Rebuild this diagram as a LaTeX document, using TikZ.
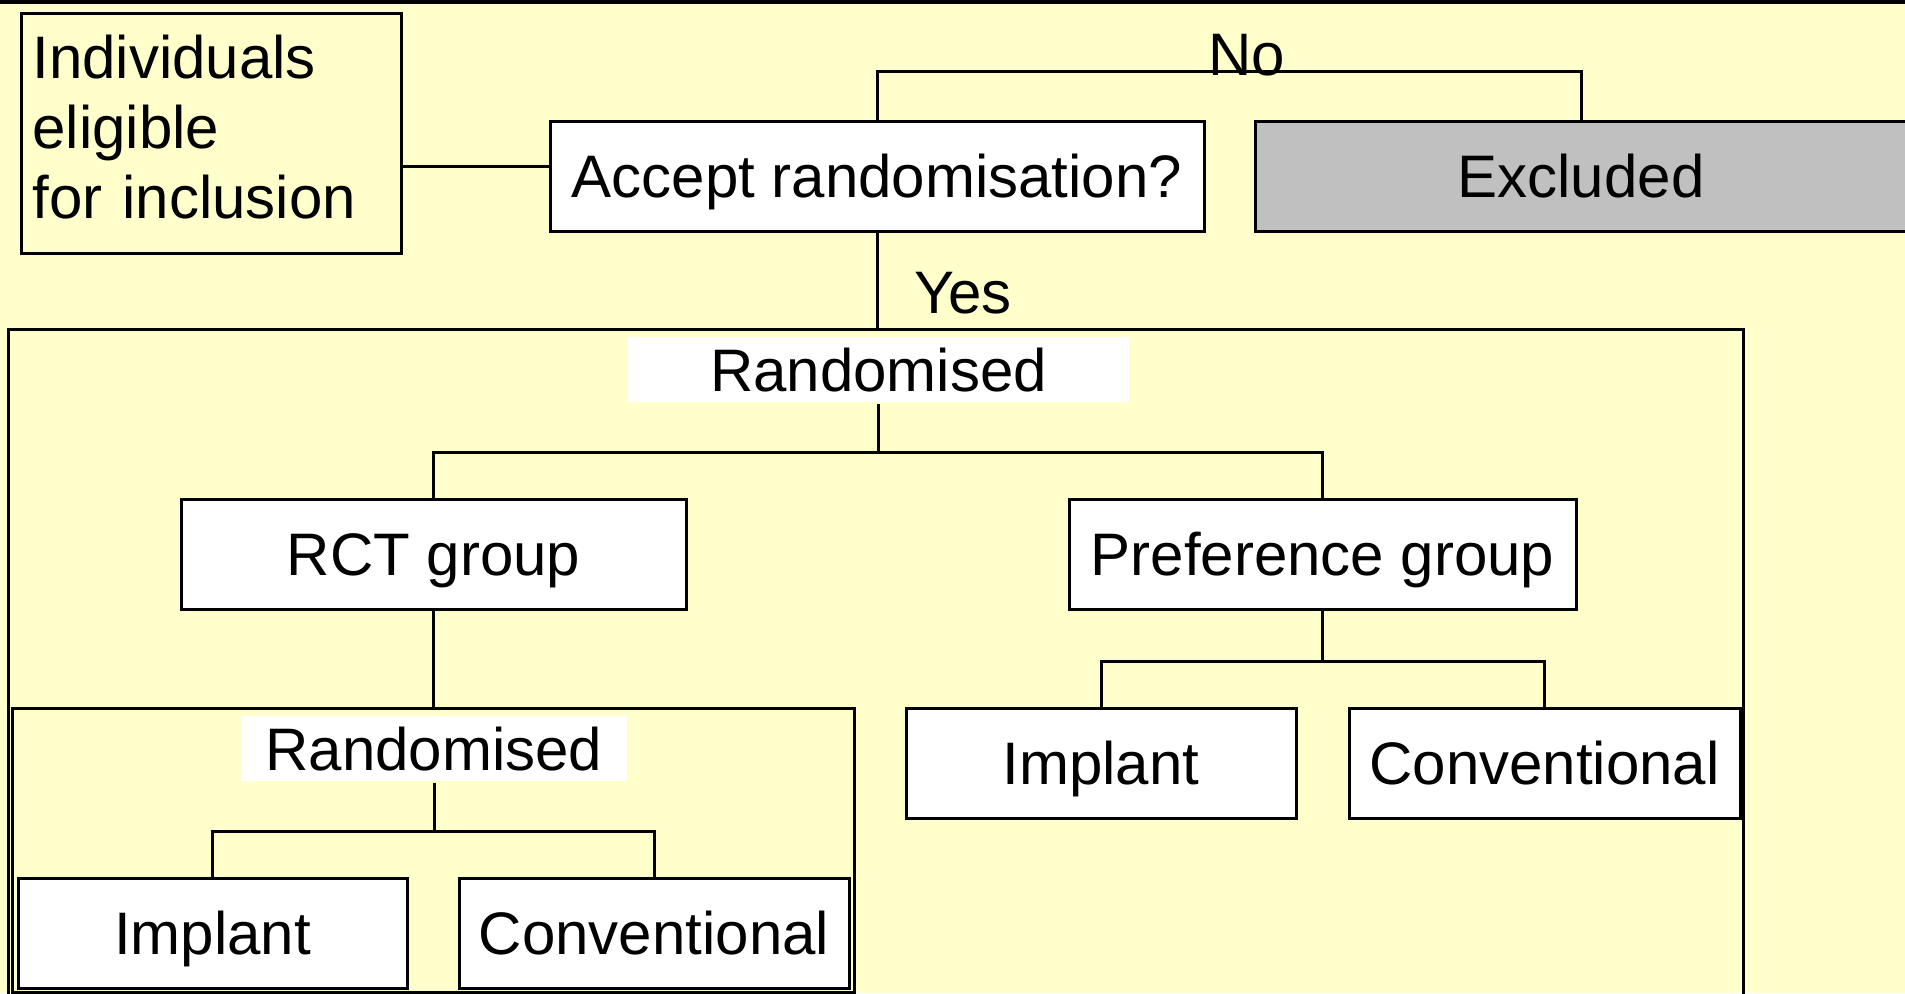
\documentclass[tikz,border=0pt]{standalone}
\usepackage{fontspec}
\setmainfont{Liberation Sans}
\usepackage{tikz}
\usetikzlibrary{positioning}
\definecolor{paper}{HTML}{FFFFCC}
\definecolor{greybox}{HTML}{C0C0C0}
\definecolor{blobred}{HTML}{FF8080}
\definecolor{blobpink}{HTML}{FF33AA}
\definecolor{blobpurple}{HTML}{9933FF}
\begin{document}
\begin{tikzpicture}[x=0.5pt,y=-0.5pt,
		line width=1.5pt,
		font=\fontsize{30}{35}\selectfont,
		box/.style={draw,fill=white,inner sep=0pt,text height=21.6pt,text depth=0pt},
		label/.style={fill=white,inner sep=0pt,text height=21.6pt,text depth=0pt}]
		% Page
		\useasboundingbox (0,0) rectangle (1905,993);
		\clip (0,0) rectangle (1905,993);
		\fill[paper] (0,0) rectangle (1905,993);
		\fill[blobred] (108,-12) ellipse [x radius=19, y radius=15];
		\fill[blobpink] (168,-22) ellipse [x radius=32, y radius=25];
		\fill[blobpurple] (205,-16) ellipse [x radius=26, y radius=19];
		\fill[black] (0,0) rectangle (1905,3.5);
		% Group frames
		\draw (8.5,329) rectangle (1743,1010);
		\draw (12,708) rectangle (854,992);
		% Boxes
		\node[draw,fill=paper,inner xsep=5.5pt,text width=179pt,minimum height=120pt,align=left] (indiv) at (211.5,133) {Individuals\\eligible\\for inclusion\rule[-6pt]{0pt}{6pt}};
		\node[box,minimum width=327pt,minimum height=55pt] (accept) at (877,176) {Accept randomisation?};
		\node[box,fill=greybox,minimum width=326pt,minimum height=55pt] (excl) at (1581,176) {Excluded};
		\node[label,minimum width=250.5pt,minimum height=32.5pt] (rand1) at (878.5,369.5) {Randomised};
		\node[box,minimum width=252.5pt,minimum height=55pt] (rct) at (433.5,554) {RCT group};
		\node[box,minimum width=253.5pt,minimum height=55pt] (pref) at (1322.5,554) {Preference group};
		\node[label,minimum width=193pt,minimum height=32.5pt] (rand2) at (434,748.5) {Randomised};
		\node[box,minimum width=194.5pt,minimum height=55pt] (imp1) at (212.5,933) {Implant};
		\node[box,minimum width=195pt,minimum height=55pt] (conv1) at (654,933) {Conventional};
		\node[box,minimum width=195pt,minimum height=55pt] (imp2) at (1101,763) {Implant};
		\node[box,minimum width=195.5pt,minimum height=55pt] (conv2) at (1544.5,763) {Conventional};
		% Connectors
		\coordinate (join) at ([yshift=5pt]accept.west);
		\draw (indiv.east |- join) -- (join);
		\draw (accept.north) -- ++(0,-48) -| (excl.north);
		\node[anchor=base] (no) at (1247,75) {No};
		\draw (accept.south) -- ++(0,98);
		\node[anchor=base] (yes) at (963,313) {Yes};
		\draw (rand1.south) -- ++(0,49) -| (rct.north);
		\draw (rand1.south) ++(0,49) -| (pref.north);
		\draw (rct.south) -- ++(0,99);
		\draw (rand2.south) -- ++(0,49) -| (imp1.north);
		\draw (rand2.south) ++(0,49) -| (conv1.north);
		\draw (pref.south) -- ++(0,51) -| (imp2.north);
		\draw (pref.south) ++(0,51) -| (conv2.north);
	\end{tikzpicture}
\end{document}
